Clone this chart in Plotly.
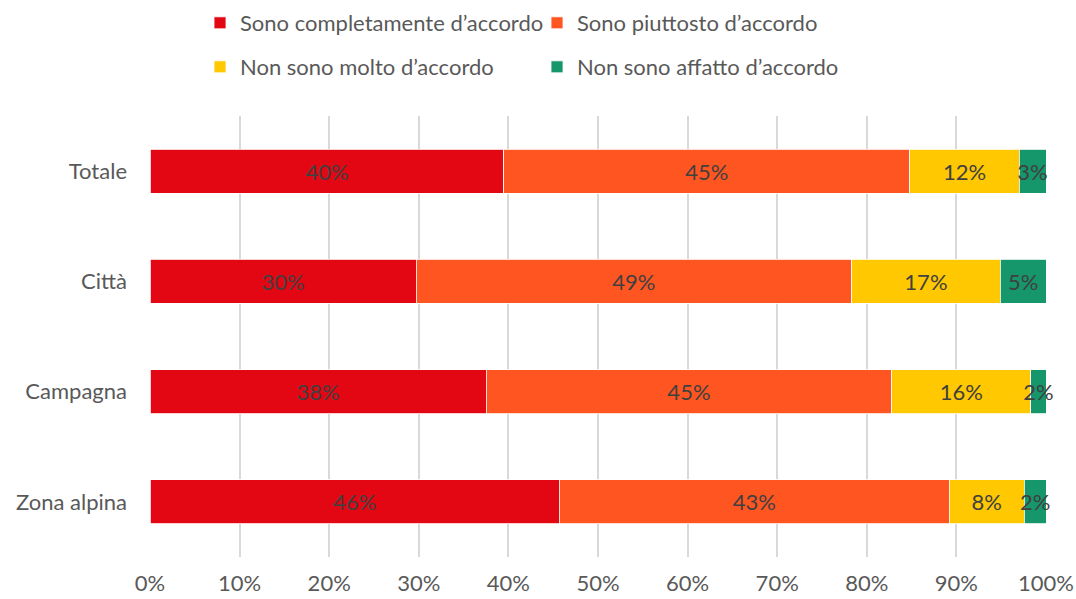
import plotly.graph_objects as go

categories = ["Totale", "Città", "Campagna", "Zona alpina"]
series_names = [
    "Sono completamente d’accordo",
    "Sono piuttosto d’accordo",
    "Non sono molto d’accordo",
    "Non sono affatto d’accordo",
]
completamente = [39.5, 29.7, 37.5, 45.6]
piuttosto = [45.3, 48.6, 45.3, 43.4]
non_molto = [12.2, 16.6, 15.5, 8.4]
non_affatto = [3.0, 5.1, 1.7, 2.4]
tick_vals = [0, 10, 20, 30, 40, 50, 60, 70, 80, 90, 100]
tick_text = [f"{v}%" for v in tick_vals]

colors = ["#E30613", "#FF5521", "#FFC800", "#15966B"]
values = [completamente, piuttosto, non_molto, non_affatto]
legends = ["legend", "legend", "legend2", "legend2"]

FONT = "Lato"
FS = 22
fig = go.Figure()
for name, vals, col, lg in zip(series_names, values, colors, legends):
    fig.add_trace(go.Bar(
        y=categories, x=vals, name=name, orientation="h",
        marker=dict(color=col, line=dict(color="white", width=0.8)),
        text=[f"{round(v):.0f}%" for v in vals],
        textposition="inside", insidetextanchor="middle", textangle=0,
        constraintext="none",
        textfont=dict(family=FONT, size=22, color="#404040"),
        legend=lg, cliponaxis=False,
    ))

leg_common = dict(orientation="h", xanchor="left", yanchor="middle",
                  entrywidth=292, entrywidthmode="pixels", traceorder="normal",
                  font=dict(family=FONT, size=FS, color="#595959"), itemclick=False)

fig.update_layout(
    barmode="stack", barnorm="percent", bargap=0.6,
    width=1076, height=599,
    margin=dict(l=150, r=30, t=116, b=42, autoexpand=False),
    paper_bgcolor="white", plot_bgcolor="white",
    font=dict(family=FONT, size=FS, color="#595959"),
    uniformtext=dict(mode="show", minsize=22),
    showlegend=True,
    legend=dict(x=(200 - 150) / 896, y=(557 - 23) / 441, **leg_common),
    legend2=dict(x=(200 - 150) / 896, y=(557 - 67) / 441, **leg_common),
    xaxis=dict(range=[0, 100], tickvals=tick_vals, ticktext=tick_text,
               showgrid=True, gridcolor="#D9D9D9", gridwidth=1.5,
               zeroline=False, showline=False, ticks="", ticklabelstandoff=11,
               ticklabeloverflow="allow",
               tickfont=dict(family=FONT, size=FS, color="#595959")),
    yaxis=dict(categoryorder="array", categoryarray=categories, autorange="reversed",
               showgrid=False, zeroline=False, showline=False, ticks="",
               ticklabelstandoff=22,
               tickfont=dict(family=FONT, size=FS, color="#595959")),
)

fig.write_html("out.html", config={"displayModeBar": False},
               post_script="document.body.style.margin='0';")
